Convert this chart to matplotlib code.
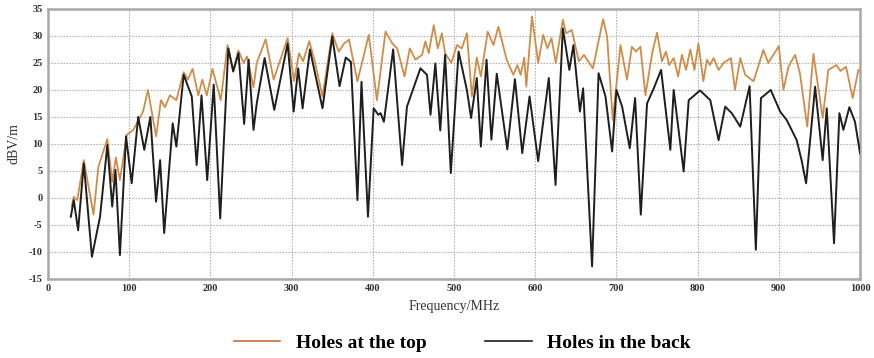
import matplotlib
matplotlib.use("Agg")
import matplotlib.pyplot as plt

# Field strength vs. frequency for two aperture placements
freq_top = [29, 31.7, 36, 44, 56, 62, 73, 79, 83.5, 88.5, 97, 105, 117, 123, 133, 139, 144, 150,
            158, 167, 172, 178, 185, 190, 195.5, 202.5, 212.7, 221, 228, 234.5, 240.7, 245, 253,
            257, 268, 277.8, 295, 303, 309, 314, 321.7, 328, 338, 350, 358, 364.6, 370.7, 381,
            395, 405, 415.6, 424, 430, 439, 445.5, 452.4, 460.6, 464.7, 468.8, 475, 480, 485,
            489, 496.6, 503.5, 509.6, 515.8, 522, 528, 533, 541.5, 548.5, 554.6, 564.8, 573,
            578, 582, 586.5, 589, 596, 603.6, 609.8, 615, 620, 625.3, 634, 638, 645, 653.7, 660,
            671, 683.6, 688.5, 695.5, 705, 713, 719, 724, 729.5, 735.7, 744, 750, 756, 761, 765,
            770.5, 776, 780.7, 785.7, 791, 796, 801, 807, 811.5, 815, 819.7, 825.8, 832, 841,
            846, 852.5, 858.6, 868.9, 881, 887, 900, 905.7, 911.9, 920, 926, 935, 942.6, 954,
            961, 971, 976, 982.8, 991, 998, 1000]
level_top = [-1.6, 0.2, -0.4, 7, -3.1, 5.8, 10.9, 3, 7.5, 3.3, 11.7, 12.6, 16, 20, 11.4, 18.1,
             16.8, 19, 18.1, 23.3, 21.9, 23.9, 19, 21.9, 19, 23.9, 18.1, 28.3, 23.7, 27.3, 25,
             26.2, 20.5, 25, 29.4, 21.9, 29.6, 21.7, 26.8, 25.3, 29, 25.6, 18.8, 30.5, 27.1,
             28.6, 29.3, 21.6, 30.2, 18.1, 30.8, 28.6, 27.7, 22.5, 27.7, 25.6, 26.5, 29, 26.8,
             32, 27.7, 30.5, 26.8, 25, 28.3, 27.7, 30.5, 18.8, 26, 22.5, 30.8, 28.3, 31.7, 25.6,
             22.8, 24.6, 22.8, 26, 20.6, 33.6, 25, 30.2, 27.7, 29.6, 25, 33, 30.5, 31.1, 25.3,
             26.5, 24, 33.1, 29.9, 14.4, 28.3, 21.9, 28, 27.1, 28, 19, 26.8, 30.6, 25.3, 27.1,
             24.6, 25.9, 22.5, 26.5, 23.7, 27.5, 23.7, 28.6, 21.6, 25.6, 24.6, 25.9, 23.7, 25,
             25.9, 20, 25.9, 22.8, 21.6, 27.4, 25, 28.1, 20, 24.3, 26.5, 23.1, 13.2, 26.7, 14.8,
             23.7, 24.6, 23.5, 24.3, 18.5, 23.7, 23.7]

freq_back = [28, 31.7, 37, 44, 54, 64, 73, 79, 83, 88.5, 96, 103, 111, 118.5, 126, 133, 138, 143,
             153.5, 158, 167, 177, 183, 189, 196, 204, 212, 222, 228, 234.5, 241.5, 247, 253,
             257, 266.7, 278.6, 295, 302.5, 308, 313.5, 322.5, 338, 350, 359, 366.6, 373, 381,
             386, 394, 401, 406.7, 409.5, 413.6, 425, 436, 442, 458.6, 466.7, 471, 477, 483, 489,
             496, 505.6, 515.8, 521, 528, 533, 540, 546, 552.6, 565.6, 575, 584, 593, 603.6,
             616.7, 625, 634, 642, 647, 655, 659, 670, 678, 686.5, 694.7, 700, 707, 716.4, 723,
             730, 737.7, 746, 755, 766.4, 770.5, 782.8, 789, 803, 815.6, 825.8, 834, 842, 852.5,
             864, 871.7, 878, 883, 890, 901.6, 909.8, 922, 928, 933.6, 944.7, 954, 959, 968,
             974.6, 979.5, 986.9, 993.8, 1000]
level_back = [-3.5, -0.4, -6, 6.4, -10.9, -3.5, 9.8, -1.6, 5.2, -10.6, 11.4, 2.7, 15, 8.9, 15,
              -0.7, 7, -6.5, 13.8, 9.5, 22.8, 18.8, 6.1, 19, 3.3, 21, -3.8, 27.7, 23.4, 26.8,
              13.7, 25.6, 12.6, 17.5, 25.9, 16.3, 28.6, 16, 24, 16.6, 27.5, 16.6, 29.9, 20.7, 26,
              25.2, -0.4, 21.5, -3.5, 16.6, 15.4, 15.7, 14.1, 27.5, 6.1, 16.9, 24, 22.8, 15.4,
              24.9, 12.5, 26.5, 4.6, 27.1, 20, 14.8, 22.2, 9.5, 25.6, 10.8, 23, 9, 22, 8.3, 18.8,
              6.8, 22.2, 2.4, 31.4, 23.7, 28.3, 16, 20.3, -12.7, 23.1, 18.8, 8.6, 20, 16.9, 9.2,
              18.5, -3.1, 17.5, 20.3, 23.7, 8.9, 20, 4.9, 18.1, 19.9, 18.1, 10.7, 16.9, 15.7,
              13.2, 20.7, -9.6, 18.5, 19.1, 20, 16, 14.4, 10.7, 7, 2.7, 20.6, 7, 16.6, -8.4,
              15.7, 12.6, 16.8, 14.1, 8.3]

x_ticks = list(range(0, 1001, 100))
y_ticks = list(range(-15, 36, 5))
series_names = ["Holes at the top", "Holes in the back"]

serif = ["Liberation Serif", "DejaVu Serif"]

fig = plt.figure(figsize=(8.74, 3.58), dpi=100)
ax = fig.add_axes([0.055, 0.221, 0.929, 0.754])

ax.plot(freq_top, level_top, color="#CF8D48", lw=1.3, label=series_names[0], zorder=3,
        solid_joinstyle="round")
ax.plot(freq_back, level_back, color="#1E1E1E", lw=1.4, label=series_names[1], zorder=4,
        solid_joinstyle="round")

ax.set_xlim(0, 1000)
ax.set_ylim(-15, 35)
ax.set_xticks(x_ticks)
ax.set_yticks(y_ticks)
ax.set_xticklabels([str(v) for v in x_ticks], family=serif, fontsize=7.5, fontweight="bold",
                   color="#333333")
ax.set_yticklabels([str(v) for v in y_ticks], family=serif, fontsize=7.5, fontweight="bold",
                   color="#333333")
ax.tick_params(length=0, pad=4)
ax.grid(True, color="#A5A5A5", linestyle=(0, (1.2, 1.5)), linewidth=0.8)
for sp in ax.spines.values():
    sp.set_color("#A8A8A8")
    sp.set_linewidth(1.8)

ax.set_xlabel("Frequency/MHz", family=serif, fontsize=10, color="#333333", labelpad=5)
ax.set_ylabel("dBV/m", family=serif, fontsize=10, color="#333333", labelpad=6)

handles = [plt.Line2D([], [], color="#C4703A", lw=1.2),
           plt.Line2D([], [], color="#1E1E1E", lw=1.2)]
fig.legend(handles, series_names, loc="center", bbox_to_anchor=(0.529, 0.042), ncol=2,
           frameon=False, prop={"family": serif, "size": 14, "weight": "bold"},
           handlelength=2.4, handletextpad=0.8, columnspacing=3.0)

fig.savefig("out.png", dpi=100)
